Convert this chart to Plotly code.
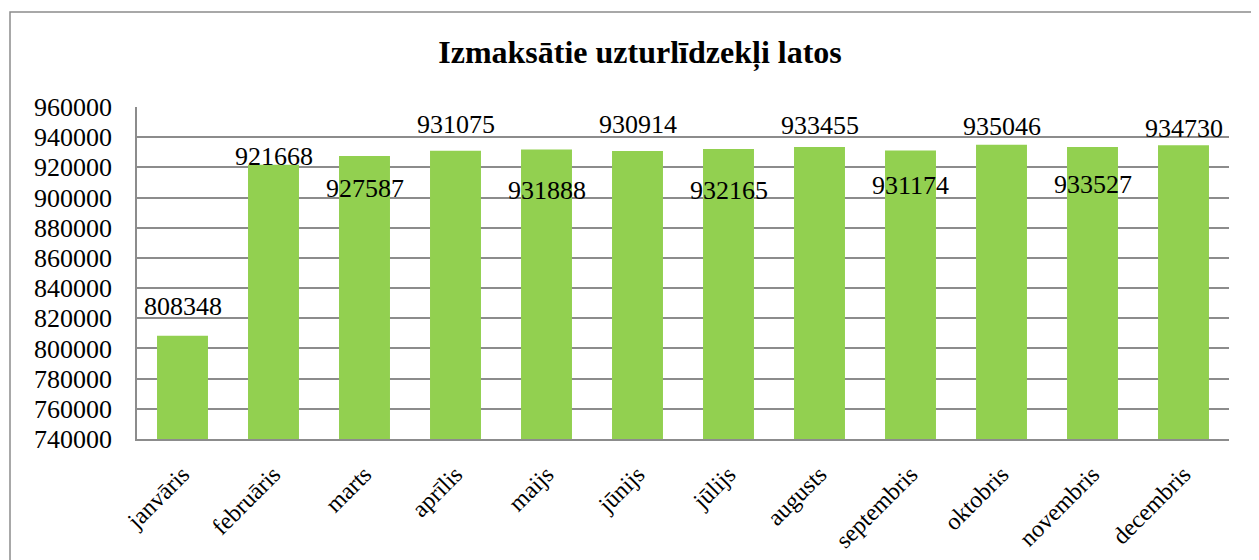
import plotly.graph_objects as go

months = ["janvāris", "februāris", "marts", "aprīlis", "maijs", "jūnijs",
          "jūlijs", "augusts", "septembris", "oktobris", "novembris", "decembris"]
values = [808348, 921668, 927587, 931075, 931888, 930914,
          932165, 933455, 931174, 935046, 933527, 934730]
# pixel offset of each value label from the bar top (positive = above)
label_shift = [29, 8, -33, 26, -41, 26, -41, 22, -35, 18, -38, 17]

title = "Izmaksātie uzturlīdzekļi latos"
y_ticks = list(range(740000, 960001, 20000))

FONT = "Liberation Serif, Times New Roman, serif"
GRID = "#8c8c8c"

# page body has an 8px margin; compensate so the chart lands where the reference is
OFF = 8
W, H = 1259 - OFF, 560 - OFF
L, R, T, B = 137 - OFF, 30, 107 - OFF, 121
PW, PH = W - L - R, H - T - B

fig = go.Figure()
fig.add_trace(go.Bar(
    x=months, y=values, marker=dict(color="#92D050", line=dict(width=0)),
    hoverinfo="x+y",
))

for m, v, s in zip(months, values, label_shift):
    fig.add_annotation(x=m, y=v, text=str(v), showarrow=False, yshift=s,
                       font=dict(family=FONT, size=26, color="black"))

fig.update_layout(
    width=W, height=H,
    margin=dict(l=L, r=R, t=T, b=B, autoexpand=False),
    paper_bgcolor="white", plot_bgcolor="white",
    bargap=0.44,
    showlegend=False,
    title=dict(text="<b>" + title + "</b>", x=(640 - OFF) / W, xanchor="center",
               y=1 - (52 - OFF) / H, yanchor="middle",
               font=dict(family=FONT, size=32, color="black")),
    font=dict(family=FONT, color="black"),
)
fig.update_yaxes(range=[740000, 960000], tickvals=y_ticks,
                 ticktext=[str(t) for t in y_ticks],
                 showgrid=True, gridcolor=GRID, gridwidth=1.5,
                 showline=True, linecolor=GRID, linewidth=1.5,
                 ticks="", ticklabelstandoff=18,
                 tickfont=dict(family=FONT, size=26, color="black"),
                 zeroline=False)
fig.update_xaxes(showline=True, linecolor=GRID, linewidth=1.5,
                 showgrid=False, ticks="", tickangle=-45, ticklabelstandoff=10,
                 tickfont=dict(family=FONT, size=24, color="black"))

fig.add_shape(type="rect", xref="paper", yref="paper",
              x0=(10 - 137) / PW, x1=(1258 - 137) / PW,
              y0=-0.6, y1=(439 - 12) / PH,
              line=dict(color="#8c8c8c", width=1.5), layer="below")

fig.write_html("out.html")
